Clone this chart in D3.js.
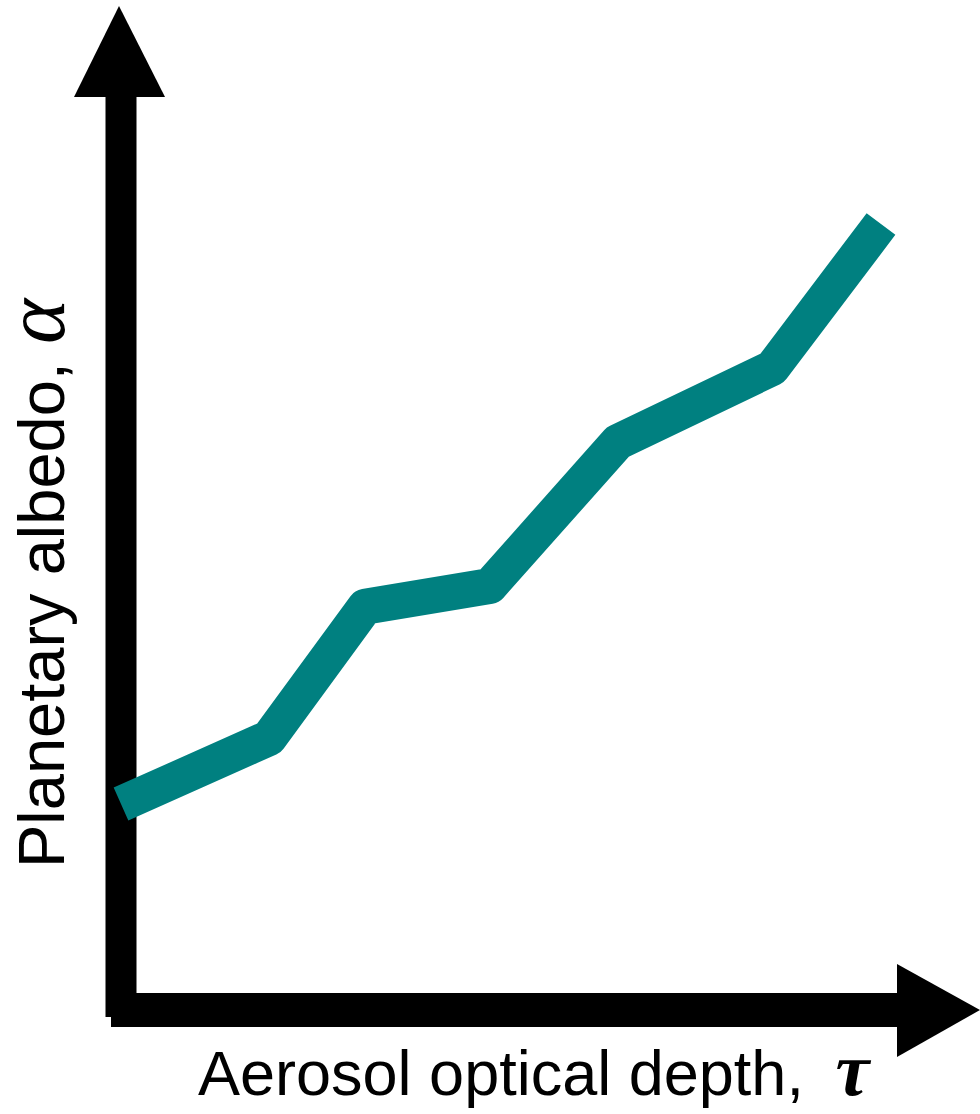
<!DOCTYPE html>
<html>
<head>
<meta charset="utf-8">
<script src="https://cdn.jsdelivr.net/npm/d3@7"></script>
<style>
  html, body { margin: 0; padding: 0; background: #fff; }
  svg { display: block; }
</style>
</head>
<body>
<svg id="chart" width="980" height="1114"></svg>
<script>
// Data (normalized)
const tau = [0, 0.185, 0.305, 0.461, 0.621, 0.814, 0.950];
const albedo = [0.2575, 0.340, 0.504, 0.530, 0.710, 0.8025, 0.9825];
const xLabel = "Aerosol optical depth, ";
const xSymbol = "\u03C4";
const yLabel = "Planetary albedo, ";
const ySymbol = "\u03B1";

const svg = d3.select("#chart");
const x = d3.scaleLinear().domain([0, 1]).range([121, 921]);
const y = d3.scaleLinear().domain([0, 1]).range([1010, 210]);

const teal = "#008080";
const x0 = x(0), y0 = y(0);

// Axes (thick arrows)
svg.append("rect").attr("x", x0 - 15.5).attr("y", 96).attr("width", 31).attr("height", y0 + 7 - 96).attr("fill", "#000");
svg.append("path").attr("d", `M${x0 - 47},97 L${x0 + 44},97 L${x0 - 2},6 Z`).attr("fill", "#000");
svg.append("rect").attr("x", x0 - 10).attr("y", y0 - 17).attr("width", 898 - (x0 - 10)).attr("height", 34).attr("fill", "#000");
svg.append("path").attr("d", `M897,${y0 - 46} L897,${y0 + 47} L980,${y0} Z`).attr("fill", "#000");

// Line (on top of axes)
const pts = tau.map((t, i) => [t, albedo[i]]);
svg.append("path")
  .datum(pts)
  .attr("d", d3.line().x(d => x(d[0])).y(d => y(d[1])))
  .attr("fill", "none")
  .attr("stroke", teal)
  .attr("stroke-width", 36)
  .attr("stroke-linejoin", "round")
  .attr("stroke-linecap", "butt");

// X label
const xt = svg.append("text")
  .attr("x", 198).attr("y", 1095)
  .attr("font-family", "Liberation Sans, Arial, sans-serif")
  .attr("font-size", 63)
  .attr("fill", "#000");
xt.append("tspan").text(xLabel);
xt.append("tspan")
  .attr("dx", 14)
  .attr("font-family", "Liberation Serif, Times New Roman, serif")
  .attr("font-style", "italic")
  .attr("font-weight", "bold")
  .attr("font-size", 76)
  .text(xSymbol);

// Y label
const yt = svg.append("text")
  .attr("transform", "translate(64,868) rotate(-90)")
  .attr("font-family", "Liberation Sans, Arial, sans-serif")
  .attr("font-size", 65)
  .attr("fill", "#000");
yt.append("tspan").text(yLabel);
yt.append("tspan")
  .attr("font-family", "Liberation Serif, Times New Roman, serif")
  .attr("font-style", "italic")
  .attr("font-size", 86)
  .text(ySymbol);
</script>
</body>
</html>
